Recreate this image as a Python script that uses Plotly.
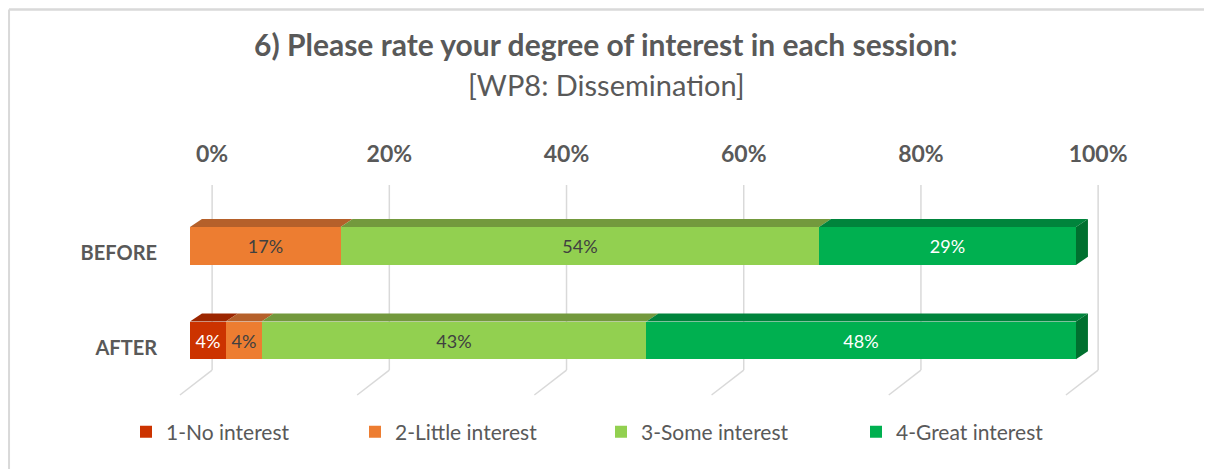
import plotly.graph_objects as go

# data
categories = ['AFTER', 'BEFORE']
levels = ['1-No interest', '2-Little interest', '3-Some interest', '4-Great interest']
no_interest = [4, 0]
little_interest = [4, 17]
some_interest = [43, 54]
great_interest = [48, 29]
tick_values = [0, 0.2, 0.4, 0.6, 0.8, 1.0]
tick_labels = ['0%', '20%', '40%', '60%', '80%', '100%']

series = [no_interest, little_interest, some_interest, great_interest]
front_colors = ['#CC3300', '#ED7D31', '#92D050', '#00B050']
top_colors = ['#9C2600', '#B5602A', '#73993D', '#00843C']
side_color = '#00702F'
text_colors = ['white', '#404040', '#404040', 'white']
grey = '#595959'

# 100% stacked: normalise each row like Excel does
totals = [sum(s[i] for s in series) for i in range(len(categories))]
shares = [[s[i] / totals[i] for i in range(len(categories))] for s in series]

bar_w = 0.40      # bar thickness in y units
dx, dy = 0.0135, 0.085   # fake 3D depth of the bars
back = 0.025      # back wall offset of gridlines
ypos = list(range(len(categories)))

fig = go.Figure()

legend_ids = ['legend', 'legend2', 'legend3', 'legend4']
for k, name in enumerate(levels):
    fig.add_trace(go.Bar(
        y=ypos, x=shares[k], orientation='h', name=name,
        width=bar_w,
        marker=dict(color=front_colors[k], line=dict(width=0)),
        text=[f'{v}%' if v > 0 else '' for v in series[k]],
        textposition='inside', insidetextanchor='middle',
        textfont=dict(color=text_colors[k], size=18, family='Lato'),
        legend=legend_ids[k],
        hoverinfo='skip',
    ))

# top faces (and right side face) of the pseudo-3D bars
for i, y in enumerate(ypos):
    start = 0.0
    yt = y + bar_w / 2
    yb = y - bar_w / 2
    for k in range(len(levels)):
        end = start + shares[k][i]
        if shares[k][i] > 0:
            fig.add_trace(go.Scatter(
                x=[start, start + dx, end + dx, end, start],
                y=[yt, yt + dy, yt + dy, yt, yt],
                fill='toself', fillcolor=top_colors[k], mode='lines',
                line=dict(width=0), showlegend=False, hoverinfo='skip'))
        start = end
    fig.add_trace(go.Scatter(
        x=[start, start + dx, start + dx, start, start],
        y=[yb, yb + dy, yt + dy, yt, yb],
        fill='toself', fillcolor=side_color, mode='lines',
        line=dict(width=0), showlegend=False, hoverinfo='skip'))

# gridlines on the back wall with floor diagonals, behind the bars
grid_top, grid_bottom, floor_y = 1.646, -0.314, -0.578
shapes = []
for t in tick_values:
    shapes.append(dict(type='line', xref='x', yref='y', layer='below',
                       x0=t + back, x1=t + back, y0=grid_top, y1=grid_bottom,
                       line=dict(color='#D9D9D9', width=1.5)))
    shapes.append(dict(type='line', xref='x', yref='y', layer='below',
                       x0=t + back, x1=t - 0.0113, y0=grid_bottom, y1=floor_y,
                       line=dict(color='#D9D9D9', width=1.5)))
# chart border (top and left edges visible)
shapes.append(dict(type='line', xref='paper', yref='paper',
                   x0=-0.1775, x1=1.2, y0=1.683, y1=1.683,
                   line=dict(color='#D9D9D9', width=2.5)))
shapes.append(dict(type='line', xref='paper', yref='paper',
                   x0=-0.1775, x1=-0.1775, y0=1.683, y1=-0.3,
                   line=dict(color='#D9D9D9', width=2)))

legend_x = [143, 372, 618, 873]
legends = {}
for k, lid in enumerate(legend_ids):
    legends[lid] = dict(
        x=(legend_x[k] - 17 - 175) / 935, y=-0.138, xanchor='left', yanchor='middle',
        orientation='h', itemwidth=30, bgcolor='rgba(0,0,0,0)',
        font=dict(family='Lato', size=21, color=grey))

# the html page body has an 8px margin, so the figure is 8px smaller
fig.update_layout(
    width=1204, height=461,
    margin=dict(l=167, r=102, t=160, b=69, autoexpand=False),
    paper_bgcolor='white', plot_bgcolor='white',
    barmode='stack', bargap=0,
    showlegend=True,
    shapes=shapes,
    xaxis=dict(range=[-0.0169, 1.0384], side='top', showgrid=False, zeroline=False,
               tickvals=[t + back for t in tick_values], ticktext=tick_labels,
               tickfont=dict(family='Lato', size=23, color=grey, weight='bold'),
               ticks='', showline=False, fixedrange=True, automargin=False),
    # category labels sit a little below the bar centres, as in the 3D original
    yaxis=dict(range=[-0.631, 1.826], showgrid=False, zeroline=False,
               tickvals=[y - 0.075 for y in ypos], ticktext=categories, ticks='',
               ticklabelstandoff=17,
               tickfont=dict(family='Lato', size=20, color=grey, weight='bold'),
               showline=False, fixedrange=True, automargin=False),
    annotations=[
        dict(text='<b>6) Please rate your degree of interest in each session:</b>',
             xref='paper', yref='paper', x=0.461, y=1.536, showarrow=False,
             xanchor='center', yanchor='middle',
             font=dict(family='Lato', size=30, color=grey)),
        dict(text='[WP8: Dissemination]',
             xref='paper', yref='paper', x=0.461, y=1.358, showarrow=False,
             xanchor='center', yanchor='middle',
             font=dict(family='Lato', size=29, color=grey)),
    ],
    **legends,
)

fig.write_html('out.html')
